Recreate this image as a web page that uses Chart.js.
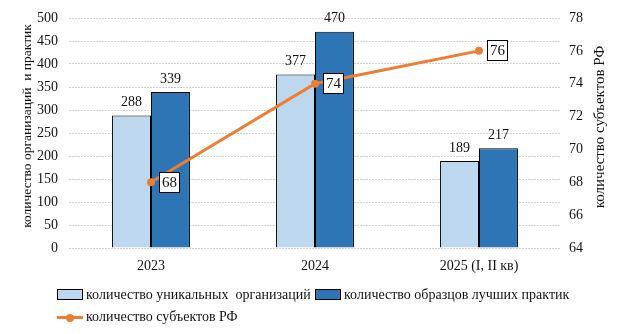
<!DOCTYPE html>
<html>
<head>
<meta charset="utf-8">
<script src="https://cdn.jsdelivr.net/npm/chart.js@4"></script>
<style>
  html, body { margin: 0; padding: 0; background: #fff; }
  #wrap { position: relative; width: 624px; height: 334px; }
  #chart { position: absolute; left: 0; top: 0; }
  .legend { position: absolute; font: 14px "Liberation Serif", "Times New Roman", serif; color: #111; white-space: pre; }
  .box { position: absolute; width: 24px; height: 9px; border: 1px solid #000; }
  .ln { position: absolute; width: 26px; height: 3px; background: #ED7D31; }
  .dot { position: absolute; width: 8px; height: 8px; border-radius: 50%; background: #ED7D31; }
</style>
</head>
<body>
<div id="wrap">
  <canvas id="chart" width="624" height="334"></canvas>
  <div class="box" style="left:57px;top:289px;background:#BDD7EE"></div>
  <div class="legend" style="left:86px;top:287px">количество уникальных  организаций</div>
  <div class="box" style="left:315px;top:289px;background:#2E75B6"></div>
  <div class="legend" style="left:344px;top:287px">количество образцов лучших практик</div>
  <div class="ln" style="left:57px;top:316px"></div>
  <div class="dot" style="left:66px;top:313.5px"></div>
  <div class="legend" style="left:86px;top:309px">количество субъектов РФ</div>
</div>
<script>
const years = ['2023', '2024', '2025 (I, II кв)'];
const uniqueOrgs = [288, 377, 189];
const practices = [339, 470, 217];
const regions = [68, 74, 76];

const FONT = '"Liberation Serif", "Times New Roman", serif';
const INK = '#111';

// value labels: plain text above bars, boxed text right of line points
const valueLabels = {
  id: 'valueLabels',
  afterDatasetsDraw(chart) {
    const ctx = chart.ctx;
    ctx.save();
    ctx.textAlign = 'center';
    ctx.textBaseline = 'middle';
    chart.data.datasets.forEach((ds, i) => {
      const meta = chart.getDatasetMeta(i);
      meta.data.forEach((el, j) => {
        const v = ds.data[j];
        if (ds.type === 'line') {
          const bx = Math.round(el.x + 8), by = Math.round(el.y - 10.5);
          ctx.fillStyle = '#fff';
          ctx.fillRect(bx, by, 21, 21);
          ctx.strokeStyle = '#000';
          ctx.lineWidth = 1;
          ctx.strokeRect(bx + 0.5, by + 0.5, 20, 20);
          ctx.font = '15px ' + FONT;
          ctx.fillStyle = INK;
          ctx.fillText(String(v), bx + 10.5, by + 11.5);
        } else {
          ctx.font = '14px ' + FONT;
          ctx.fillStyle = INK;
          ctx.fillText(String(v), el.x, el.y - 13);
        }
      });
    });
    ctx.restore();
  }
};

// both axis titles read bottom-to-top
const axisTitles = {
  id: 'axisTitles',
  afterDraw(chart) {
    const ctx = chart.ctx;
    const put = (text, x, y, size) => {
      ctx.save();
      ctx.translate(x, y);
      ctx.rotate(-Math.PI / 2);
      ctx.font = size + 'px ' + FONT;
      ctx.fillStyle = INK;
      ctx.textAlign = 'center';
      ctx.textBaseline = 'middle';
      ctx.fillText(text, 0, 0);
      ctx.restore();
    };
    put('количество организаций  и практик', 27, 126, 13.5);
    put('количество субъектов РФ', 600, 127, 15);
  }
};

const tickFont = { family: FONT, size: 14, lineHeight: 1 };

new Chart(document.getElementById('chart'), {
  data: {
    labels: years,
    datasets: [
      { type: 'line', label: 'количество субъектов РФ', data: regions, yAxisID: 'y1', order: 0,
        borderColor: '#ED7D31', backgroundColor: '#ED7D31', borderWidth: 3,
        pointRadius: 4, pointHoverRadius: 4, pointBorderWidth: 0, tension: 0 },
      { type: 'bar', label: 'количество уникальных организаций', data: uniqueOrgs, yAxisID: 'y', order: 1,
        backgroundColor: '#BDD7EE', borderColor: '#000', borderWidth: 1,
        barPercentage: 1, categoryPercentage: 0.475 },
      { type: 'bar', label: 'количество образцов лучших практик', data: practices, yAxisID: 'y', order: 1,
        backgroundColor: '#2E75B6', borderColor: '#000', borderWidth: 1,
        barPercentage: 1, categoryPercentage: 0.475 },
    ]
  },
  options: {
    responsive: false, animation: false,
    layout: { padding: { top: 14, left: 0, right: 0, bottom: 0 } },
    plugins: { legend: { display: false }, tooltip: { enabled: false } },
    scales: {
      x: {
        grid: { display: false }, border: { display: false },
        ticks: { font: { family: FONT, size: 14 }, color: INK, padding: 2, maxRotation: 0 },
        afterFit(s) { s.height = 86; }
      },
      y: {
        position: 'left', min: 0, max: 500,
        grid: { color: '#d0d0d0', drawTicks: false }, border: { display: false, dash: [2, 1] },
        ticks: { stepSize: 50, font: tickFont, color: INK, padding: 11 },
        afterFit(s) { s.width = 69; }
      },
      y1: {
        position: 'right', min: 64, max: 78,
        grid: { display: false, drawTicks: false }, border: { display: false },
        ticks: { stepSize: 2, font: tickFont, color: INK, padding: 8 },
        afterFit(s) { s.width = 63; }
      }
    }
  },
  plugins: [valueLabels, axisTitles]
});
</script>
</body>
</html>
